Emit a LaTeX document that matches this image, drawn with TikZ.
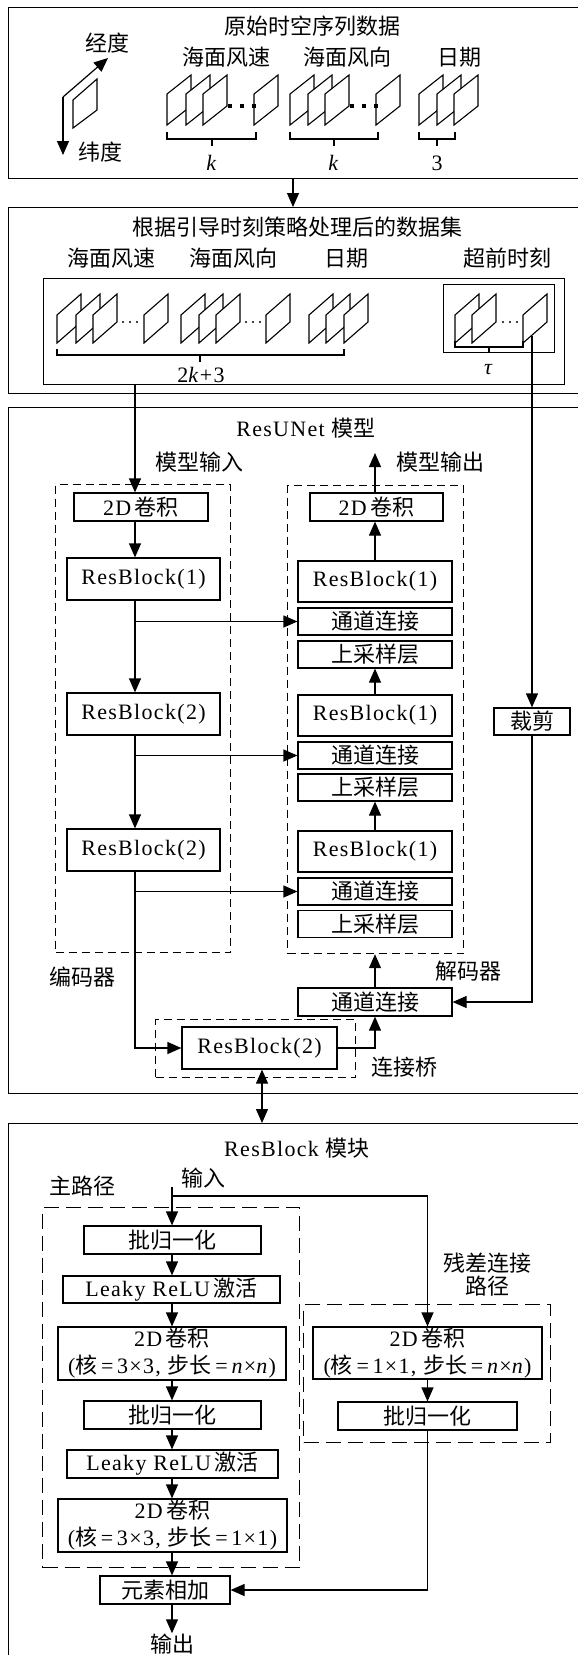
\documentclass[tikz,border=0pt]{standalone}
\usepackage{fontspec}
\setmainfont{Liberation Serif}[LetterSpace=6]
\newfontfamily\cjk{Noto Sans CJK SC}
\usetikzlibrary{arrows.meta}
\newcommand\zh[1]{{\cjk #1}}
\def\sh{31}\def\sw{24}\def\sr{19}
\newcommand\sheet[2]{\filldraw[fill=white,line width=1.1pt,line join=miter] (#1,#2) -- ++(0,-\sh) -- ++(\sw,-\sr) -- ++(0,\sh) -- cycle;}
\newcommand\sqdot[2]{\fill (#1-1.8,#2-1.8) rectangle (#1+1.8,#2+1.8);}
\newcommand\rdot[2]{\fill (#1,#2) circle (1.1);}
\begin{document}
\begin{tikzpicture}[x=1pt,y=-1pt,line width=1.2pt,
  font=\fontsize{22}{27}\selectfont,
  box/.style={draw,line width=1.2pt,inner sep=0pt,fill=white},
  frame/.style={draw,line width=1.3pt,inner sep=0pt,anchor=north west},
  dsh/.style={draw,line width=1.2pt,inner sep=0pt,anchor=north west,dash pattern=on 8pt off 5pt},
  dshl/.style={draw,line width=1.2pt,inner sep=0pt,anchor=north west,dash pattern=on 15pt off 7pt},
  lbl/.style={inner sep=0pt},
  arr/.style={-{Triangle[length=14pt,width=12pt]}},
  darr/.style={{Triangle[length=14pt,width=12pt]}-{Triangle[length=14pt,width=12pt]}}]
\useasboundingbox (0,0) rectangle (578,1655);
\clip (0,0) rectangle (578,1655);
% ---------- frames ----------
\node[frame,minimum width=600pt,minimum height=171pt] (F1) at (8,7) {};
\node[frame,minimum width=600pt,minimum height=186pt] (F2) at (8,207) {};
\node[frame,minimum width=600pt,minimum height=686pt] (F3) at (8,407) {};
\node[frame,minimum width=600pt,minimum height=700pt] (F4) at (8,1123) {};
\coordinate (xA) at (293,0);
\draw[arr] (F1.south -| xA) -- (F2.north -| xA);
% ---------- frame 1 ----------
\node[lbl] (t1) at (312,26) {\zh{原始时空序列数据}};
\node[lbl] (jd) at (107,43) {\zh{经度}};
\node[lbl] (wd) at (100,152) {\zh{纬度}};
\coordinate (axc) at (63,97);
\coordinate (axu) at (108,58);
\coordinate (axd) at (63,155);
\draw[arr] (axc) -- (axu);
\draw[arr] (axc) -- (axd);
\draw[line width=1.1pt] (73,128) -- (73,100) -- (97,79) -- (97,110) -- cycle;
\node[lbl] (l1a) at (226,57) {\zh{海面风速}};
\node[lbl] (l1b) at (347,57) {\zh{海面风向}};
\node[lbl] (l1c) at (459,57) {\zh{日期}};
\sheet{167}{125}\sheet{186}{125}\sheet{203}{125}
\sqdot{230}{106}\sqdot{242}{106}
\sheet{254}{125}\sqdot{254}{106}
\sheet{290}{125}\sheet{308}{125}\sheet{325}{125}
\sqdot{352}{106}\sqdot{364}{106}
\sheet{376}{125}\sqdot{376}{106}
\sheet{419}{125}\sheet{437}{125}\sheet{454}{125}
\draw (167,132) -- (167,139) -- (256,139) -- (256,132) (212,139) -- (212,146);
\draw (290,132) -- (290,139) -- (378,139) -- (378,132) (334,139) -- (334,146);
\draw (419,132) -- (419,139) -- (455,139) -- (455,132) (437,139) -- (437,146);
\node[lbl] (k1) at (212,163) {\textit{k}};
\node[lbl] (k2) at (334,163) {\textit{k}};
\node[lbl] (k3) at (437,163) {3};
% ---------- frame 2 ----------
\node[lbl] (t2) at (297,227) {\zh{根据引导时刻策略处理后的数据集}};
\node[lbl] (l2a) at (111,258) {\zh{海面风速}};
\node[lbl] (l2b) at (233,258) {\zh{海面风向}};
\node[lbl] (l2c) at (346,258) {\zh{日期}};
\node[lbl] (l2d) at (507,258) {\zh{超前时刻}};
\node[frame,minimum width=521pt,minimum height=106pt,line width=1.2pt] (F2in) at (43,278) {};
\node[frame,minimum width=111pt,minimum height=68pt,line width=1.2pt] (taub) at (443,284) {};
\def\sh{28}\def\sr{21}
\sheet{57}{343}\sheet{76}{343}\sheet{93}{343}
\rdot{123}{322}\rdot{130}{322}\rdot{137}{322}
\sheet{144}{343}
\sheet{181}{343}\sheet{199}{343}\sheet{216}{343}
\rdot{246}{322}\rdot{253}{322}\rdot{260}{322}
\sheet{266}{343}
\sheet{309}{343}\sheet{326}{343}\sheet{344}{343}
\sheet{455}{343}\sheet{472}{343}
\rdot{503}{322}\rdot{510}{322}\rdot{517}{322}
\sheet{523}{343}
\draw (57,349) -- (57,355) -- (344,355) -- (344,349) (200,355) -- (200,362);
\draw (455,341) -- (455,347) -- (523,347) -- (523,341) (489,347) -- (489,353);
\node[lbl] (kk) at (201,375) {2\textit{k}+3};
\node[lbl] (tau) at (489,370) {\textit{τ}};
\coordinate (tauout) at (532,336);
% ---------- frame 3 ----------
\node[lbl] (t3) at (306,428) {ResUNet \zh{模型}};
\node[lbl] (min) at (199,462) {\zh{模型输入}};
\node[lbl] (mout) at (440,462) {\zh{模型输出}};
\node[dsh,minimum width=175pt,minimum height=468pt] (enc) at (55,484) {};
\node[dsh,minimum width=176pt,minimum height=468pt] (dec) at (287,485) {};
\node[dsh,minimum width=200pt,minimum height=58pt] (brg) at (155,1019) {};
\node[lbl] (lenc) at (82,977) {\zh{编码器}};
\node[lbl] (ldec) at (468,971) {\zh{解码器}};
\node[lbl] (lbrg) at (404,1067) {\zh{连接桥}};
\node[box,minimum width=134pt,minimum height=28pt] (e2d) at (141,507) {2D\,\zh{卷积}};
\node[box,minimum width=153pt,minimum height=42pt] (erb1) at (143.5,579) {ResBlock(1)};
\node[box,minimum width=153pt,minimum height=42pt] (erb2a) at (143.5,714) {ResBlock(2)};
\node[box,minimum width=153pt,minimum height=42pt] (erb2b) at (143.5,850) {ResBlock(2)};
\node[box,minimum width=133pt,minimum height=28pt] (d2d) at (376.5,507) {2D\,\zh{卷积}};
\node[box,minimum width=154pt,minimum height=41pt] (drb1a) at (375,581.5) {ResBlock(1)};
\node[box,minimum width=154pt,minimum height=27pt] (dcat1) at (375,621.5) {\zh{通道连接}};
\node[box,minimum width=154pt,minimum height=27pt] (dup1) at (375,654.5) {\zh{上采样层}};
\node[box,minimum width=154pt,minimum height=41pt] (drb1b) at (375,715.5) {ResBlock(1)};
\node[box,minimum width=154pt,minimum height=27pt] (dcat2) at (375,755.5) {\zh{通道连接}};
\node[box,minimum width=154pt,minimum height=27pt] (dup2) at (375,787.5) {\zh{上采样层}};
\node[box,minimum width=154pt,minimum height=41pt] (drb1c) at (375,851.5) {ResBlock(1)};
\node[box,minimum width=154pt,minimum height=27pt] (dcat3) at (375,891.5) {\zh{通道连接}};
\node[box,minimum width=154pt,minimum height=27pt] (dup3) at (375,924) {\zh{上采样层}};
\node[box,minimum width=154pt,minimum height=28pt] (dcat4) at (375,1002) {\zh{通道连接}};
\node[box,minimum width=76pt,minimum height=27pt] (crop) at (532,721.5) {\zh{裁剪}};
\node[box,minimum width=155pt,minimum height=42pt] (brb) at (259.5,1048) {ResBlock(2)};
\coordinate (ax) at (135,0);
\coordinate (dx) at (375,0);
\coordinate (bx) at (262,0);
\coordinate (outtip) at (375,453);
\draw[arr] (F2in.south -| ax) -- (e2d.north -| ax);
\draw[arr] (e2d.south -| ax) -- (erb1.north -| ax);
\draw[arr] (erb1.south -| ax) -- (erb2a.north -| ax);
\draw[arr] (erb2a.south -| ax) -- (erb2b.north -| ax);
\draw[arr] (erb2b.south -| ax) |- (brb.west);
\draw[arr] (ax |- dcat1.west) -- (dcat1.west);
\draw[arr] (ax |- dcat2.west) -- (dcat2.west);
\draw[arr] (ax |- dcat3.west) -- (dcat3.west);
\draw[arr] (drb1a.north -| dx) -- (d2d.south -| dx);
\draw[arr] (d2d.north -| dx) -- (outtip);
\draw[arr] (drb1b.north -| dx) -- (dup1.south -| dx);
\draw[arr] (drb1c.north -| dx) -- (dup2.south -| dx);
\draw[arr] (dcat4.north -| dx) -- (dec.south -| dx);
\draw[arr] (brb.east) -| (dcat4.south -| dx);
\draw[arr] (tauout) -- (crop.north);
\draw[arr] (crop.south) |- (dcat4.east);
\draw[darr] (brb.south -| bx) -- (F4.north -| bx);
% ---------- frame 4 ----------
\node[lbl] (t4) at (297,1148) {ResBlock \zh{模块}};
\node[lbl] (lin) at (203,1178) {\zh{输入}};
\node[lbl] (lmain) at (82,1186) {\zh{主路径}};
\node[lbl] (lres1) at (487,1263) {\zh{残差连接}};
\node[lbl] (lres2) at (487,1286) {\zh{路径}};
\node[dshl,minimum width=257pt,minimum height=360pt] (mainp) at (42,1207) {};
\node[dshl,minimum width=247pt,minimum height=138pt] (resp) at (303,1304) {};
\node[box,minimum width=177pt,minimum height=28pt] (bn1) at (172.5,1240) {\zh{批归一化}};
\node[box,minimum width=217pt,minimum height=27pt] (lr1) at (171.5,1289.5) {Leaky ReLU\,\zh{激活}};
\node[box,minimum width=228pt,minimum height=53pt,align=center] (cv1) at (172,1353.5) {2D\,\zh{卷积}\\(\zh{核}\,=\,3×3, \zh{步长}\,=\,\textit{n}×\textit{n})};
\node[box,minimum width=229pt,minimum height=52pt,align=center] (rcv) at (427.5,1353) {2D\,\zh{卷积}\\(\zh{核}\,=\,1×1, \zh{步长}\,=\,\textit{n}×\textit{n})};
\node[box,minimum width=177pt,minimum height=28pt] (bn2) at (172.5,1415) {\zh{批归一化}};
\node[box,minimum width=179pt,minimum height=28pt] (rbn) at (427.5,1416) {\zh{批归一化}};
\node[box,minimum width=211pt,minimum height=28pt] (lr2) at (172.5,1464) {Leaky ReLU\,\zh{激活}};
\node[box,minimum width=229pt,minimum height=53pt,align=center] (cv2) at (172.5,1525.5) {2D\,\zh{卷积}\\(\zh{核}\,=\,3×3, \zh{步长}\,=\,1×1)};
\node[box,minimum width=130pt,minimum height=28pt] (add) at (165,1590) {\zh{元素相加}};
\node[lbl] (lout) at (172,1644) {\zh{输出}};
\coordinate (mx) at (172,0);
\coordinate (instart) at (172,1187);
\coordinate (br) at (172,1196);
\draw[arr] (instart) -- (bn1.north -| mx);
\draw[arr] (br) -| (rcv.north);
\draw[arr] (bn1.south -| mx) -- (lr1.north -| mx);
\draw[arr] (lr1.south -| mx) -- (cv1.north -| mx);
\draw[arr] (cv1.south -| mx) -- (bn2.north -| mx);
\draw[arr] (bn2.south -| mx) -- (lr2.north -| mx);
\draw[arr] (lr2.south -| mx) -- (cv2.north -| mx);
\draw[arr] (cv2.south -| mx) -- (add.north -| mx);
\draw[arr] (add.south -| mx) -- (lout.north);
\draw[arr] (rcv.south) -- (rbn.north);
\draw[arr] (rbn.south) |- (add.east);
\end{tikzpicture}
\end{document}
